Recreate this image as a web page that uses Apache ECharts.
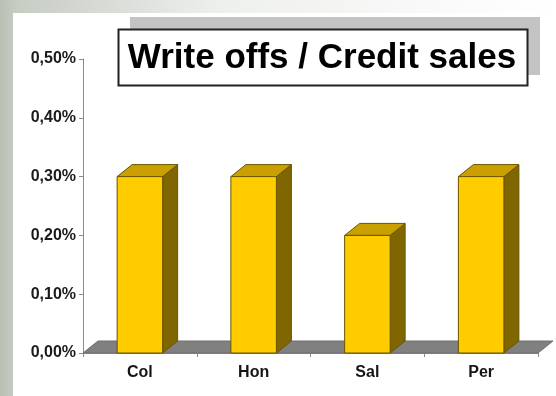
<!DOCTYPE html>
<html>
<head>
<meta charset="utf-8">
<script src="https://cdn.jsdelivr.net/npm/echarts@6/dist/echarts.min.js"></script>
<style>html,body{margin:0;padding:0;background:#fff}#c{width:556px;height:396px}</style>
</head>
<body>
<div id="c"></div>
<script>
var categories = ['Col', 'Hon', 'Sal', 'Per'];
var values = [0.30, 0.30, 0.20, 0.30];
var yTicks = { min: 0, max: 0.5, interval: 0.1 };
var titleText = 'Write offs / Credit sales';

var DX = 15, DY = 12;
var chart = echarts.init(document.getElementById('c'), null, { renderer: 'canvas' });

function fmt(v) { return v.toFixed(2).replace('.', ',') + '%'; }

var option = {
  animation: false,
  backgroundColor: '#ffffff',
  graphic: [
    { type: 'rect', z: -10, shape: { x: 0, y: 0, width: 556, height: 396 },
      style: { fill: new echarts.graphic.LinearGradient(0, 0, 1, 0, [
        { offset: 0, color: '#b9c1b6' }, { offset: 0.03, color: '#c6cdc3' }, { offset: 0.4, color: '#eef0ed' }, { offset: 1, color: '#ffffff' }]) } },
    { type: 'rect', z: -9, shape: { x: 13, y: 13, width: 543, height: 383 }, style: { fill: '#ffffff' } },
    { type: 'rect', z: -8, shape: { x: 130, y: 17, width: 410, height: 58 }, style: { fill: '#c3c3c3' } },
    { type: 'rect', z: -7, shape: { x: 118.5, y: 29.5, width: 409, height: 56 }, style: { fill: '#ffffff', stroke: '#222222', lineWidth: 2 } },
    { type: 'text', z: -6, style: { x: 322, y: 58, text: titleText, align: 'center', verticalAlign: 'middle',
      font: 'bold 35px "Liberation Sans", Arial, sans-serif', fill: '#000000' } }
  ],
  grid: { left: 83, right: 18, top: 59, bottom: 43, containLabel: false },
  xAxis: {
    type: 'category', data: categories, boundaryGap: true,
    axisLine: { show: true, lineStyle: { color: '#8a8a8a', width: 1 } },
    axisTick: { show: true, length: 4, lineStyle: { color: '#8a8a8a' } },
    axisLabel: { margin: 12, color: '#151515', fontSize: 16, fontWeight: 'bold', fontFamily: '"Liberation Sans", Arial, sans-serif' },
    splitLine: { show: false }
  },
  yAxis: {
    type: 'value', min: yTicks.min, max: yTicks.max, interval: yTicks.interval,
    axisLine: { show: true, lineStyle: { color: '#8a8a8a', width: 1 } },
    axisTick: { show: true, length: 4, lineStyle: { color: '#8a8a8a' } },
    axisLabel: { margin: 7, color: '#1a1a1a', fontSize: 16, fontWeight: 'bold', fontFamily: '"Liberation Sans", Arial, sans-serif', formatter: fmt },
    splitLine: { show: false }
  },
  series: [
    {
      type: 'custom', z: 1, data: [[0, 0]], silent: true,
      renderItem: function (params, api) {
        var cs = params.coordSys;
        var y0 = api.coord([0, 0])[1];
        var x0 = cs.x, x1 = cs.x + cs.width;
        return { type: 'polygon', shape: { points: [[x0, y0], [x1, y0], [x1 + DX, y0 - DY], [x0 + DX, y0 - DY]] },
          style: { fill: '#808080', stroke: '#6e6e6e', lineWidth: 1 } };
      }
    },
    {
      type: 'custom', z: 2, silent: true,
      data: categories.map(function (c, i) { return [i, values[i]]; }),
      renderItem: function (params, api) {
        var idx = api.value(0), v = api.value(1);
        var pb = api.coord([idx, 0]);
        var pt = api.coord([idx, v]);
        var bw = api.size([1, 0])[0] * 0.40;
        var xl = pb[0] - bw / 2, xr = pb[0] + bw / 2, yb = pb[1], yt = pt[1];
        var edge = '#6a5400';
        return { type: 'group', children: [
          { type: 'polygon', shape: { points: [[xr, yt], [xr + DX, yt - DY], [xr + DX, yb - DY], [xr, yb]] },
            style: { fill: '#806600', stroke: edge, lineWidth: 1 } },
          { type: 'polygon', shape: { points: [[xl, yt], [xr, yt], [xr + DX, yt - DY], [xl + DX, yt - DY]] },
            style: { fill: '#c9a000', stroke: edge, lineWidth: 1 } },
          { type: 'rect', shape: { x: xl, y: yt, width: bw, height: yb - yt },
            style: { fill: '#ffcc00', stroke: edge, lineWidth: 1 } }
        ] };
      }
    }
  ]
};
chart.setOption(option);
</script>
</body>
</html>
